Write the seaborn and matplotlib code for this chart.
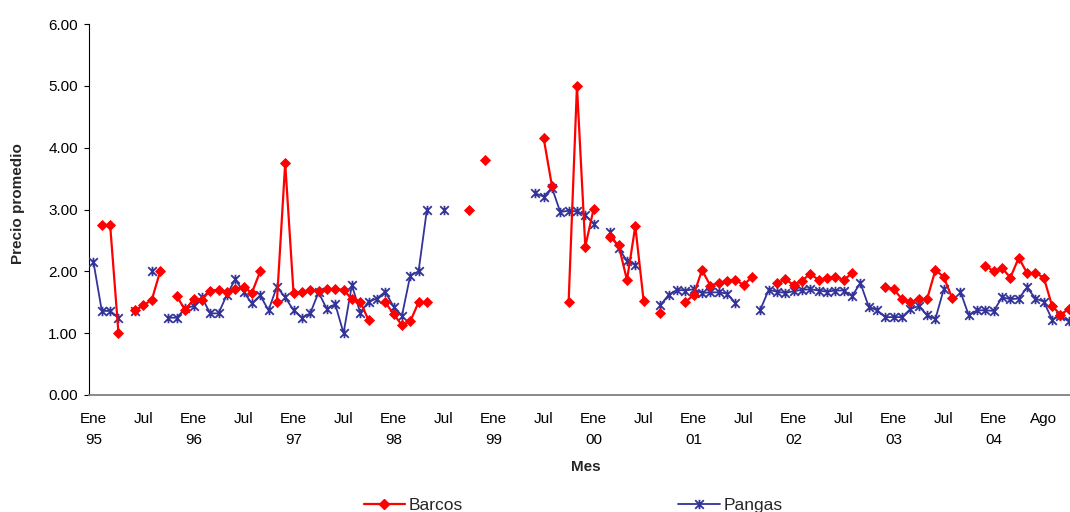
import numpy as np
import pandas as pd
import matplotlib
matplotlib.use("Agg")
import matplotlib.pyplot as plt
from matplotlib.path import Path
from matplotlib.lines import Line2D
import seaborn as sns

N = None
# monthly categories, Ene 95 ... (118 months)
barcos = [
    N, 2.75, 2.75, 1.00, N, 1.37, 1.45, 1.54, 2.00, N,
    1.60, 1.37, 1.55, 1.54, 1.69, 1.70, 1.67, 1.71, 1.75, 1.65,
    2.00, N, 1.50, 3.75, 1.65, 1.66, 1.70, 1.68, 1.71, 1.71,
    1.70, 1.55, 1.51, 1.21, N, 1.50, 1.31, 1.13, 1.19, 1.50,
    1.50, N, N, N, N, 3.00, N, 3.80, N, N,
    N, N, N, N, 4.16, 3.38, N, 1.50, 5.00, 2.40,
    3.01, N, 2.55, 2.42, 1.86, 2.73, 1.52, N, 1.32, N,
    N, 1.50, 1.62, 2.02, 1.77, 1.81, 1.85, 1.86, 1.78, 1.91,
    N, N, 1.81, 1.87, 1.78, 1.85, 1.96, 1.86, 1.89, 1.91,
    1.86, 1.97, N, N, N, 1.74, 1.71, 1.55, 1.50, 1.55,
    1.55, 2.02, 1.91, 1.57, N, N, N, 2.09, 2.00, 2.05,
    1.90, 2.22, 1.97, 1.97, 1.90, 1.44, 1.30, 1.39,
]
pangas = [
    2.15, 1.36, 1.36, 1.25, N, 1.36, N, 2.00, N, 1.25,
    1.25, 1.40, 1.44, 1.58, 1.32, 1.32, 1.62, 1.87, 1.67, 1.48,
    1.61, 1.37, 1.75, 1.58, 1.37, 1.25, 1.32, 1.66, 1.39, 1.47,
    1.00, 1.78, 1.33, 1.51, 1.56, 1.67, 1.43, 1.28, 1.93, 2.00,
    3.00, N, 3.00, N, N, N, N, N, N, N,
    N, N, N, 3.26, 3.21, 3.35, 2.96, 2.98, 2.97, 2.91,
    2.77, N, 2.63, 2.37, 2.17, 2.10, N, N, 1.45, 1.62,
    1.70, 1.69, 1.71, 1.65, 1.66, 1.66, 1.64, 1.49, N, N,
    1.38, 1.70, 1.67, 1.65, 1.68, 1.70, 1.71, 1.69, 1.67, 1.69,
    1.69, 1.60, 1.81, 1.43, 1.37, 1.26, 1.26, 1.26, 1.39, 1.44,
    1.29, 1.23, 1.71, N, 1.67, 1.29, 1.37, 1.37, 1.36, 1.58,
    1.55, 1.56, 1.74, 1.56, 1.51, 1.22, 1.28, 1.19,
]
tick_pos = [0, 6, 12, 18, 24, 30, 36, 42, 48, 54, 60, 66, 72, 78, 84, 90, 96, 102, 108, 114]
tick_labels = ["Ene\n95", "Jul", "Ene\n96", "Jul", "Ene\n97", "Jul", "Ene\n98", "Jul",
               "Ene\n99", "Jul", "Ene\n00", "Jul", "Ene\n01", "Jul", "Ene\n02", "Jul",
               "Ene\n03", "Jul", "Ene\n04", "Ago"]
yticks = [0, 1, 2, 3, 4, 5, 6]


def frame(values):
    v = pd.Series([np.nan if x is None else x for x in values], dtype=float)
    seg = v.isna().cumsum()
    df = pd.DataFrame({"mes": np.arange(len(v)), "precio": v, "seg": seg})
    return df.dropna()


sns.set_theme(style="white")
plt.rcParams["font.family"] = ["Liberation Sans", "DejaVu Sans"]

fig = plt.figure(figsize=(10.7, 5.12), dpi=100)
ax = fig.add_axes([89.3 / 1070, (512 - 395) / 512, (1070 - 89.3) / 1070, 371 / 512])

RED = "#FF0000"
BLUE = "#333399"
star = Path([(-1, -1), (1, 1), (-1, 1), (1, -1), (0, -1.1), (0, 1.1)],
            [Path.MOVETO, Path.LINETO, Path.MOVETO, Path.LINETO, Path.MOVETO, Path.LINETO])

db = frame(barcos)
dp = frame(pangas)

sns.lineplot(data=dp, x="mes", y="precio", units="seg", estimator=None, ax=ax,
             color=BLUE, linewidth=1.3, marker=star, markersize=6.8,
             markeredgecolor=BLUE, markerfacecolor="none", markeredgewidth=1.3,
             legend=False, zorder=3)
sns.lineplot(data=db, x="mes", y="precio", units="seg", estimator=None, ax=ax,
             color=RED, linewidth=1.6, marker="D", markersize=5.4,
             markeredgecolor=RED, markerfacecolor=RED, markeredgewidth=0.6,
             legend=False, zorder=4)

ax.set_xlim(-0.5, -0.5 + (1070 - 89.3) / 8.336)
ax.set_ylim(0, 6)
ax.set_yticks(yticks)
ax.set_yticklabels([f"{t:.2f}" for t in yticks])
ax.set_xticks(tick_pos)
ax.set_xticklabels(tick_labels, linespacing=1.6)
ax.set_xlabel("")
ax.set_ylabel("")

ax.tick_params(axis="x", length=0, pad=12.5, labelsize=11, colors="black")
ax.tick_params(axis="y", direction="out", length=3.3, width=0.8, color="black",
               pad=5, labelsize=11, labelcolor="black", left=True)
for s in ["top", "right"]:
    ax.spines[s].set_visible(False)
ax.spines["left"].set_color("black")
ax.spines["left"].set_linewidth(0.8)
ax.spines["bottom"].set_color("#808080")
ax.spines["bottom"].set_linewidth(1.3)
ax.grid(False)

fig.text(18 / 1070, 1 - 204 / 512, "Precio promedio", rotation=90, ha="center",
         va="center", fontsize=11, fontweight="bold")
fig.text(586 / 1070, 1 - 467 / 512, "Mes", ha="center", va="center",
         fontsize=11, fontweight="bold")

h1 = Line2D([], [], color=RED, linewidth=1.6, marker="D", markersize=5.4,
            markeredgecolor=RED, markerfacecolor=RED)
h2 = Line2D([], [], color=BLUE, linewidth=1.3, marker=star, markersize=6.8,
            markeredgecolor=BLUE, markerfacecolor="none", markeredgewidth=1.3)
fig.legend([h1, h2], ["Barcos", "Pangas"], loc="center",
           bbox_to_anchor=(573 / 1070, 1 - 505 / 512), ncol=2, frameon=False,
           fontsize=12.5, handlelength=2.4, handletextpad=0.2, columnspacing=12.4,
           borderpad=0, borderaxespad=0)

fig.savefig("out.png", dpi=100, facecolor="white")
